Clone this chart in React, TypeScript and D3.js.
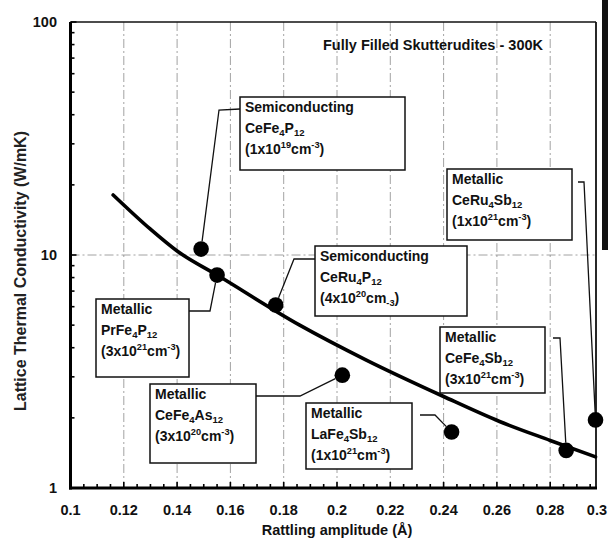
import React from "react";
import * as d3 from "d3";

// Filled skutterudites: rattling amplitude (Å) vs lattice thermal conductivity (W/mK)
const compounds = ["CeFe4P12", "PrFe4P12", "CeRu4P12", "CeFe4As12", "LaFe4Sb12", "CeFe4Sb12", "CeRu4Sb12"];
const kinds = ["Semiconducting", "Metallic", "Semiconducting", "Metallic", "Metallic", "Metallic", "Metallic"];
const carriers = [
  "(1x10^{19}cm^{-3})",
  "(3x10^{21}cm^{-3})",
  "(4x10^{20}cm_{-3})",
  "(3x10^{20}cm^{-3})",
  "(1x10^{21}cm^{-3})",
  "(3x10^{21}cm^{-3})",
  "(1x10^{21}cm^{-3})",
];
const amplitude = [0.149, 0.155, 0.177, 0.202, 0.243, 0.286, 0.297];
const conductivity = [10.6, 8.2, 6.1, 3.05, 1.74, 1.45, 1.96];

// Trend curve read along its length
const fitX = [0.116, 0.13, 0.14, 0.155, 0.186, 0.211, 0.24, 0.261, 0.28, 0.297];
const fitY = [18.1, 12.9, 10.4, 8.2, 5.0, 3.54, 2.47, 1.93, 1.6, 1.36];

const xTickValues = [0.1, 0.12, 0.14, 0.16, 0.18, 0.2, 0.22, 0.24, 0.26, 0.28, 0.3];
const xTickLabels = ["0.1", "0.12", "0.14", "0.16", "0.18", "0.2", "0.22", "0.24", "0.26", "0.28", "0.3"];
const yTickValues = [1, 10, 100];
const yTickLabels = ["1", "10", "100"];

const title = "Fully Filled Skutterudites - 300K";
const xTitle = "Rattling amplitude (Å)";
const yTitle = "Lattice Thermal Conductivity (W/mK)";

// Callout boxes: [left, top, right, bottom] and leader start / elbow
const boxes = [
  [240, 97, 405, 170],
  [96, 299, 189, 377],
  [315, 246, 467, 316],
  [150, 384, 256, 463],
  [306, 403, 412, 469],
  [440, 327, 545, 393],
  [447, 169, 572, 240],
];
const leaderStart = [
  [240, 109], [189, 311], [315, 259], [256, 396], [420, 415], [553, 338], [578, 182],
];
const leaderElbow = [
  [219, 110], [210, 311], [294, 259], [300, 396], [435, 415], [560, 338], [584, 182],
];

const FONT = "'Liberation Sans', Arial, Helvetica, sans-serif";
const W = 608;
const H = 541;
const LEFT = 70.5;
const BOTTOM = 488;
const TOP = 22;
const RIGHT_EDGE = 596;

const x = d3.scaleLinear().domain([0.1, 0.3]).range([LEFT, 603.5]);
const y = d3.scaleLog().domain([1, 100]).range([BOTTOM, TOP]);

// Render formula with numeric subscripts
function Formula({ text, size }: { text: string; size: number }) {
  const parts = text.match(/[A-Za-z]+|\d+/g) || [];
  const out: React.ReactNode[] = [];
  let shifted = false;
  parts.forEach((p, i) => {
    const isNum = /^\d+$/.test(p);
    if (isNum && !shifted) {
      out.push(<tspan key={i} dy={3} fontSize={size * 0.68}>{p}</tspan>);
      shifted = true;
    } else if (!isNum && shifted) {
      out.push(<tspan key={i} dy={-3}>{p}</tspan>);
      shifted = false;
    } else {
      out.push(<tspan key={i} fontSize={isNum ? size * 0.68 : undefined}>{p}</tspan>);
    }
  });
  return <>{out}</>;
}

// Render "^{..}" superscripts and "_{..}" subscripts
function Rich({ text, size }: { text: string; size: number }) {
  const tokens = text.split(/(\^\{[^}]*\}|_\{[^}]*\})/).filter((t) => t.length);
  const out: React.ReactNode[] = [];
  let offset = 0;
  tokens.forEach((t, i) => {
    if (t.startsWith("^{")) {
      const s = t.slice(2, -1);
      out.push(<tspan key={i} dy={-6 - offset} fontSize={size * 0.66}>{s}</tspan>);
      offset = -6;
    } else if (t.startsWith("_{")) {
      const s = t.slice(2, -1);
      out.push(<tspan key={i} dy={3 - offset} fontSize={size * 0.66}>{s}</tspan>);
      offset = 3;
    } else {
      out.push(<tspan key={i} dy={-offset}>{t}</tspan>);
      offset = 0;
    }
  });
  return <>{out}</>;
}

export default function App() {
  const line = d3
    .line<number>()
    .x((_, i) => x(fitX[i]))
    .y((d) => y(d))
    .curve(d3.curveMonotoneX);

  const minorX = d3.range(0.1, 0.2951, 0.005);
  const minorY: number[] = [];
  [1, 10].forEach((dec) => {
    for (let k = 2; k <= 9; k++) minorY.push(dec * k);
  });

  const gridX = xTickValues.filter((v) => v > 0.1 && v < 0.29);
  const R = 7.8;
  const boxFont = 14;
  const lastTick = xTickValues.length - 1;

  return (
    <svg
      width={W}
      height={H}
      viewBox={`0 0 ${W} ${H}`}
      style={{ position: "absolute", left: 0, top: 0, background: "#fff" }}
      fontFamily={FONT}
    >
      <rect x={0} y={0} width={W} height={H} fill="#fff" />

      {/* grid */}
      {gridX.map((v, i) => (
        <line
          key={"gx" + i}
          x1={x(v)}
          x2={x(v)}
          y1={TOP}
          y2={BOTTOM}
          stroke="#8a8a8a"
          strokeWidth={0.8}
          strokeDasharray="9,3,2,3"
        />
      ))}
      <line
        x1={LEFT}
        x2={RIGHT_EDGE}
        y1={y(10)}
        y2={y(10)}
        stroke="#8a8a8a"
        strokeWidth={0.8}
        strokeDasharray="9,3,2,3"
      />

      {/* frame */}
      <line x1={LEFT} x2={RIGHT_EDGE} y1={TOP} y2={TOP} stroke="#111" strokeWidth={1.6} />
      <line x1={RIGHT_EDGE} x2={RIGHT_EDGE} y1={TOP} y2={BOTTOM} stroke="#111" strokeWidth={1.8} />
      <line x1={LEFT} x2={LEFT} y1={TOP} y2={BOTTOM + 1.5} stroke="#000" strokeWidth={3} />
      <line x1={LEFT - 1.5} x2={RIGHT_EDGE + 1} y1={BOTTOM} y2={BOTTOM} stroke="#000" strokeWidth={2.8} />

      {/* bottom ticks */}
      {minorX.map((v, i) => (
        <line
          key={"tx" + i}
          x1={x(v)}
          x2={x(v)}
          y1={BOTTOM}
          y2={BOTTOM - (i % 4 === 0 ? 6 : 4)}
          stroke="#000"
          strokeWidth={1.6}
        />
      ))}
      {/* left ticks */}
      {minorY.map((v, i) => (
        <line key={"ty" + i} x1={LEFT} x2={LEFT + 4} y1={y(v)} y2={y(v)} stroke="#000" strokeWidth={1.6} />
      ))}
      {yTickValues.map((v, i) => (
        <line key={"tyM" + i} x1={LEFT} x2={LEFT + 6} y1={y(v)} y2={y(v)} stroke="#000" strokeWidth={1.6} />
      ))}

      {/* tick labels (the last one is pulled inside the right margin) */}
      {xTickValues.map((v, i) => (
        <text
          key={"lx" + i}
          x={i === lastTick ? W - 1 : x(v)}
          y={515}
          textAnchor={i === lastTick ? "end" : "middle"}
          fontSize={14.5}
          fontWeight="bold"
          fill="#111"
        >
          {xTickLabels[i]}
        </text>
      ))}
      {yTickValues.map((v, i) => (
        <text
          key={"ly" + i}
          x={57}
          y={y(v) + 5}
          textAnchor="end"
          fontSize={14.5}
          fontWeight="bold"
          fill="#111"
        >
          {yTickLabels[i]}
        </text>
      ))}

      {/* axis titles */}
      <text x={337} y={535} textAnchor="middle" fontSize={14.5} fontWeight="bold" fill="#111">
        {xTitle}
      </text>
      <text
        transform={`translate(26,271) rotate(-90)`}
        textAnchor="middle"
        fontSize={16}
        fontWeight="bold"
        fill="#222"
      >
        {yTitle}
      </text>

      {/* chart title */}
      <text x={433} y={50} textAnchor="middle" fontSize={14.5} fontWeight="bold" fill="#111">
        {title}
      </text>

      {/* trend curve */}
      <path d={line(fitY) || ""} fill="none" stroke="#000" strokeWidth={3.6} strokeLinecap="round" />

      {/* leaders */}
      {compounds.map((c, i) => {
        const px = x(amplitude[i]);
        const py = y(conductivity[i]);
        const [ex, ey] = leaderElbow[i];
        const dx = ex - px;
        const dy = ey - py;
        const len = Math.hypot(dx, dy) || 1;
        const endX = px + (dx / len) * R;
        const endY = py + (dy / len) * R;
        const [sx, sy] = leaderStart[i];
        return (
          <polyline
            key={"ld" + c}
            points={`${sx},${sy} ${ex},${ey} ${endX},${endY}`}
            fill="none"
            stroke="#111"
            strokeWidth={1.3}
          />
        );
      })}

      {/* points */}
      {compounds.map((c, i) => (
        <circle key={"pt" + c} cx={x(amplitude[i])} cy={y(conductivity[i])} r={R} fill="#000" />
      ))}

      {/* callout boxes */}
      {compounds.map((c, i) => {
        const [l, t, r, b] = boxes[i];
        const tx = l + 5;
        return (
          <g key={"bx" + c}>
            <rect x={l} y={t} width={r - l} height={b - t} fill="#fff" stroke="#111" strokeWidth={1.5} />
            <text x={tx} y={t + 15} fontSize={boxFont} fontWeight="bold" fill="#111">
              {kinds[i]}
            </text>
            <text x={tx} y={t + 36} fontSize={boxFont} fontWeight="bold" fill="#111">
              <Formula text={c} size={boxFont} />
            </text>
            <text x={tx} y={t + 57} fontSize={boxFont} fontWeight="bold" fill="#111">
              <Rich text={carriers[i]} size={boxFont} />
            </text>
          </g>
        );
      })}

      {/* dark scanned edge at the right margin */}
      <rect x={602} y={0} width={6} height={250} fill="#111" />
    </svg>
  );
}
